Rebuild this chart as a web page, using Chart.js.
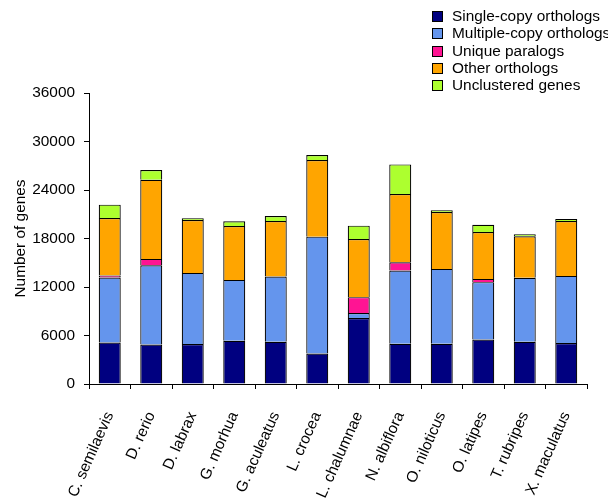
<!DOCTYPE html>
<html>
<head>
  <script src="https://cdn.jsdelivr.net/npm/chart.js@4/dist/chart.umd.min.js"></script>
  <style>
    body { margin: 0; background: #fff; }
    .wrap { position: relative; width: 608px; height: 498px; }
    #legend { position: absolute; left: 432px; top: 7px; font: 15.4px "Liberation Sans", Arial, sans-serif; color: #000; }
    #legend div { height: 17.3px; line-height: 17.3px; white-space: nowrap; }
    #legend span { display: inline-block; width: 9px; height: 9px; border: 1px solid #000; margin-right: 9px; vertical-align: -1px; }
  </style>
</head>
<body>
  <div class="wrap">
    <canvas id="genesChart" width="608" height="498"></canvas>
    <div id="legend"></div>
  </div>

  <script>
    const species = ["C. semilaevis", "D. rerio", "D. labrax", "G. morhua", "G. aculeatus", "L. crocea",
      "L. chalumnae", "N. albiflora", "O. niloticus", "O. latipes", "T. rubripes", "X. maculatus"];

    const singleCopy   = [5140, 4890, 4940, 5350, 5225, 3780, 8150, 4980, 4980, 5510, 5225, 5060];
    const multipleCopy = [8025, 9805, 8805, 7530, 8065, 14450, 620, 9050, 9260, 7090, 7905, 8315];
    const uniqueParalogs = [250, 780, 0, 0, 0, 0, 1975, 1035, 0, 405, 0, 0];
    const otherOrthologs = [7130, 9795, 6545, 6670, 6880, 9470, 7200, 8435, 7040, 5805, 5150, 6795];
    const unclustered  = [1640, 1195, 210, 580, 615, 620, 1645, 3670, 210, 900, 245, 245];

    const yTicks = [0, 6000, 12000, 18000, 24000, 30000, 36000];

    const seriesNames = ["Single-copy orthologs", "Multiple-copy orthologs", "Unique paralogs", "Other orthologs", "Unclustered genes"];
    const seriesColors = ["#000080", "#6495ed", "#ff1493", "#ffa500", "#adff2f"];
    const seriesData = [singleCopy, multipleCopy, uniqueParalogs, otherOrthologs, unclustered];

    const font = { family: "'Liberation Sans', Arial, sans-serif", size: 15.4 };

    new Chart(document.getElementById("genesChart"), {
      type: "bar",
      data: {
        labels: species,
        datasets: seriesData.map((d, i) => ({
          label: seriesNames[i],
          data: d,
          backgroundColor: seriesColors[i],
          borderColor: "#000",
          // no outline for empty segments, otherwise they show as a thick line
          borderWidth: (ctx) => (ctx.raw ? 1.2 : 0),
          borderSkipped: "bottom",
          barPercentage: 0.53,
          categoryPercentage: 1,
        })),
      },
      options: {
        responsive: false,
        animation: false,
        layout: { padding: { top: 93, right: 21, left: 12, bottom: 0 } },
        scales: {
          x: {
            stacked: true,
            grid: { drawOnChartArea: false, color: "#000", tickLength: 5 },
            border: { color: "#000", width: 1 },
            ticks: { color: "#000", font, minRotation: 66, maxRotation: 66, padding: 20 },
            afterFit: (axis) => { axis.height = 114; },
          },
          y: {
            stacked: true,
            min: 0,
            max: 36000,
            afterBuildTicks: (axis) => { axis.ticks = yTicks.map(v => ({ value: v })); },
            grid: { drawOnChartArea: false, color: "#000", tickLength: 5 },
            border: { color: "#000", width: 1 },
            ticks: { color: "#000", font, padding: 9, callback: (v) => String(v) },
            title: { display: true, text: "Number of genes", color: "#000", font, padding: 0 },
            afterFit: (axis) => { axis.width = 77; },
          },
        },
        plugins: {
          legend: { display: false },
          tooltip: { enabled: false },
        },
      },
    });

    // legend drawn as html, top right
    const legend = document.getElementById("legend");
    seriesNames.forEach((name, i) => {
      const row = document.createElement("div");
      row.innerHTML = `<span style="background:${seriesColors[i]}"></span>${name}`;
      legend.appendChild(row);
    });
  </script>
</body>
</html>
